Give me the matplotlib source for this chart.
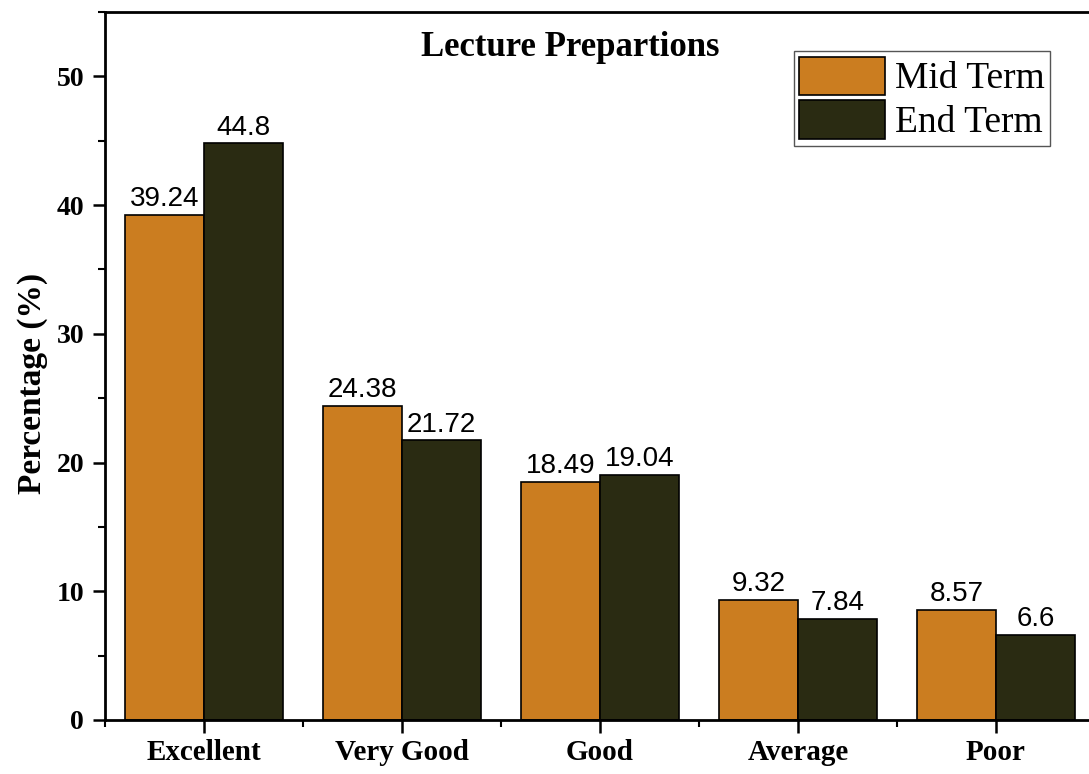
import matplotlib.pyplot as plt
from matplotlib.ticker import MultipleLocator

categories = ['Excellent', 'Very Good', 'Good', 'Average', 'Poor']
mid_term = [39.24, 24.38, 18.49, 9.32, 8.57]
end_term = [44.8, 21.72, 19.04, 7.84, 6.6]

serif = ['Liberation Serif', 'DejaVu Serif']
sans = ['Liberation Sans', 'DejaVu Sans']

fig = plt.figure(figsize=(10.89, 7.74), dpi=100)
ax = fig.add_axes([0.0964, 0.0698, 0.909, 0.9147])

x = list(range(1, len(categories) + 1))
w = 0.4
bars_mid = ax.bar([i - w / 2 for i in x], mid_term, w, color='#CB7D20',
                  edgecolor='black', linewidth=1.2, label='Mid Term')
bars_end = ax.bar([i + w / 2 for i in x], end_term, w, color='#2A2B12',
                  edgecolor='black', linewidth=1.2, label='End Term')

for bars, vals in [(bars_mid, mid_term), (bars_end, end_term)]:
    for b, v in zip(bars, vals):
        ax.annotate(f'{v:g}', (b.get_x() + b.get_width() / 2, v),
                    xytext=(0, 2), textcoords='offset points',
                    ha='center', va='bottom', fontsize=20, family=sans)

ax.set_xlim(0.5, 5.5)
ax.set_ylim(0, 55)
ax.set_xticks(x)
ax.set_xticklabels(categories, family=serif, fontweight='bold', fontsize=21)
ax.xaxis.set_minor_locator(MultipleLocator(1, offset=0.5))
ax.yaxis.set_minor_locator(MultipleLocator(5))
ax.set_yticks([0, 10, 20, 30, 40, 50])
for lbl in ax.get_yticklabels():
    lbl.set_family(serif)
    lbl.set_fontweight('bold')
    lbl.set_fontsize(20)

ax.tick_params(which='major', direction='out', length=9, width=1.8)
ax.tick_params(axis='x', which='major', pad=5)
ax.tick_params(axis='y', which='major', pad=6)
ax.tick_params(which='minor', direction='out', length=5, width=1.5)
for s in ax.spines.values():
    s.set_linewidth(2)

ax.set_ylabel('Percentage (%)', family=serif, fontweight='bold', fontsize=24)
ax.yaxis.set_label_coords(-0.058, 0.476)
ax.text(0.47, 0.95, 'Lecture Prepartions', transform=ax.transAxes,
        ha='center', va='center', family=serif, fontweight='bold', fontsize=25)

leg = ax.legend(loc='upper right', bbox_to_anchor=(0.955, 0.945),
                prop={'family': serif, 'size': 27}, fancybox=False,
                edgecolor='#555555', framealpha=1, handlelength=2.3,
                handleheight=1.2, borderpad=0.15, labelspacing=0.1,
                handletextpad=0.25, borderaxespad=0)

fig.savefig('out.png', dpi=100)
